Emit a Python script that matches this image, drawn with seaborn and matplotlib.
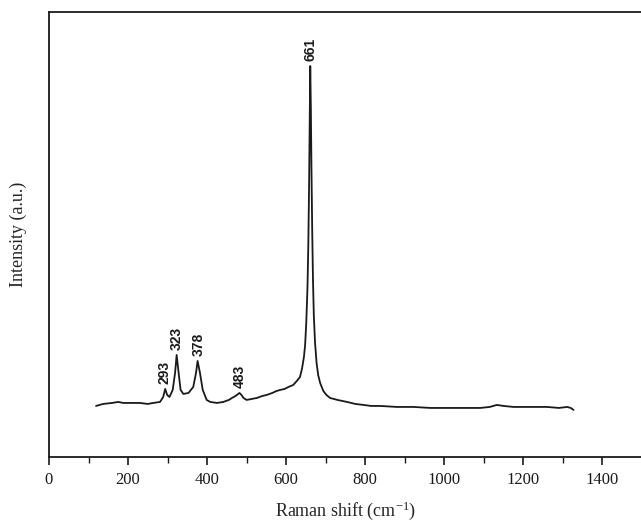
import numpy as np
import pandas as pd
import seaborn as sns
import matplotlib.pyplot as plt
from matplotlib.ticker import MultipleLocator

# Raman spectrum (wavenumber in cm-1, intensity in a.u.)
shift = [119, 137, 160, 175, 188, 210, 230, 250, 264, 281, 289, 294, 299, 305,
         313, 319, 323, 328, 333, 340, 353, 365, 372, 376, 382, 389, 399, 408,
         425, 441, 455, 463, 472, 482, 487, 492, 500, 513, 526, 540, 551, 565,
         576, 585, 596, 606, 618, 627, 635, 640, 645, 648, 651, 654, 656, 658,
         659.5, 661, 662.5, 664, 666, 668, 670, 673, 677, 681, 686, 694, 702,
         711, 730, 754, 775, 796, 815, 838, 880, 922, 965, 1007, 1050, 1091,
         1115, 1133, 1150, 1175, 1220, 1260, 1290, 1311, 1320, 1327]
intensity = [51, 53, 54, 55, 54, 54, 54, 53, 54, 55, 60, 68, 62, 60,
             67, 84, 102, 84, 67, 63, 64, 70, 84, 96, 84, 67, 57, 55,
             54, 55, 57, 59, 61, 64, 62, 59, 57, 58, 59, 61, 62, 64,
             66, 67, 68, 70, 72, 76, 80, 88, 100, 112, 135, 170, 210, 270,
             330, 391, 350, 290, 225, 175, 142, 115, 94, 82, 74, 66, 62,
             59, 57, 55, 53, 52, 51, 51, 50, 50, 49, 49, 49, 49,
             50, 52, 51, 50, 50, 50, 49, 50, 49, 47]

peak_pos = [293, 323, 378, 483, 661]
peak_lbl = ["293", "323", "378", "483", "661"]
peak_top = [68, 102, 96, 64, 391]

df = pd.DataFrame({"shift": shift, "intensity": intensity})

sns.set_style("ticks")
plt.rcParams["font.family"] = ["Liberation Serif", "DejaVu Serif"]
plt.rcParams["mathtext.fontset"] = "custom"
plt.rcParams["mathtext.rm"] = "Liberation Serif"
plt.rcParams["mathtext.it"] = "Liberation Serif:italic"

fig = plt.figure(figsize=(6.41, 5.24), dpi=100)
ax = fig.add_axes([0.0764, 0.128, 0.925, 0.849])

sns.lineplot(data=df, x="shift", y="intensity", ax=ax, color="#1a1a1a", lw=1.3)

for x, lbl, top in zip(peak_pos, peak_lbl, peak_top):
    ax.annotate(lbl, (x, top), xytext=(0, 3.5), textcoords="offset points",
                rotation=90, ha="center", va="bottom", fontsize=10,
                fontweight="bold", family="Liberation Sans", color="#1a1a1a")

ax.set_xlim(0, 1500)
ax.set_ylim(0, 445)
ax.xaxis.set_major_locator(MultipleLocator(200))
ax.xaxis.set_minor_locator(MultipleLocator(100))
ax.set_yticks([])
ax.tick_params(axis="x", which="major", direction="out", length=6, width=1.2,
               labelsize=12, colors="#1a1a1a", pad=5)
ax.tick_params(axis="x", which="minor", direction="out", length=4, width=1.0,
               colors="#1a1a1a")
ax.spines["right"].set_visible(False)
for s in ["left", "bottom", "top"]:
    ax.spines[s].set_linewidth(1.3)
    ax.spines[s].set_color("#1a1a1a")

ax.set_xlabel("Raman shift (cm$^{-1}$)", fontsize=13, labelpad=8)
ax.set_ylabel("Intensity (a.u.)", fontsize=13, labelpad=16)

fig.savefig("out.png", dpi=100)
